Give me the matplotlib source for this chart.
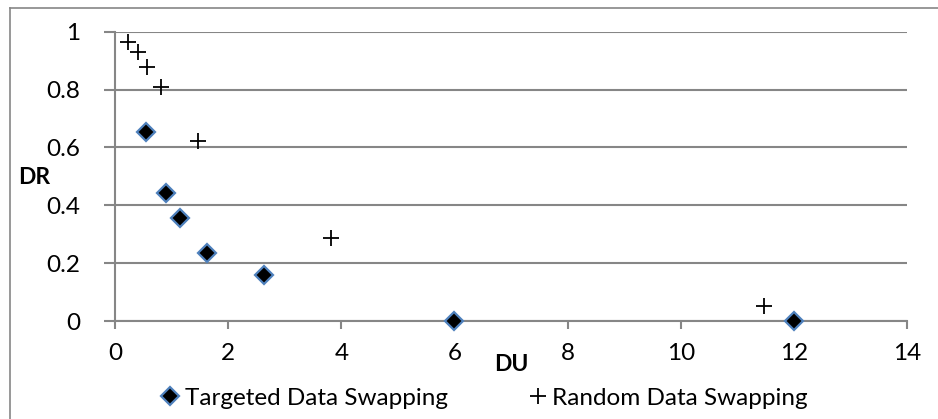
import matplotlib
matplotlib.use('Agg')
import matplotlib.pyplot as plt
from matplotlib.lines import Line2D

plt.rcParams['font.family'] = ['Lato', 'DejaVu Sans']

# data
targeted_du = [0.55, 0.90, 1.15, 1.63, 2.63, 6.0, 12.0]
targeted_dr = [0.654, 0.443, 0.356, 0.234, 0.160, 0.0, 0.0]
random_du = [0.23, 0.40, 0.56, 0.81, 1.46, 3.82, 11.48]
random_dr = [0.964, 0.930, 0.878, 0.809, 0.622, 0.287, 0.052]
x_ticks = [0, 2, 4, 6, 8, 10, 12, 14]
y_ticks = [0, 0.2, 0.4, 0.6, 0.8, 1]
y_labels = ['0', '0.2', '0.4', '0.6', '0.8', '1']

gray = '#868686'
fs = 17.5

fig = plt.figure(figsize=(9.38, 4.19), dpi=100)
ax = fig.add_axes([115 / 938, 1 - 321 / 419, 792 / 938, 289.3 / 419])

ax.plot(targeted_du, targeted_dr, linestyle='none', marker='D', markersize=9.5,
        markerfacecolor='black', markeredgecolor='#4F81BD', markeredgewidth=1.6,
        zorder=3, clip_on=False, label='Targeted Data Swapping')
ax.plot(random_du, random_dr, linestyle='none', marker='+', markersize=12,
        markeredgewidth=1.3, color='black', zorder=3, clip_on=False,
        label='Random Data Swapping')

ax.set_xlim(0, 14)
ax.set_ylim(0, 1)
ax.set_xticks(x_ticks)
ax.set_yticks(y_ticks)
ax.set_yticklabels(y_labels)
ax.grid(axis='y', color=gray, linewidth=1.5)
ax.set_axisbelow(True)

for s in ['top', 'right']:
    ax.spines[s].set_visible(False)
for s in ['left', 'bottom']:
    ax.spines[s].set_color(gray)
    ax.spines[s].set_linewidth(1.5)
ax.tick_params(axis='x', direction='out', length=6, width=1.5, color=gray,
               labelsize=fs, pad=10)
ax.tick_params(axis='y', direction='out', length=8, width=1.5, color=gray,
               labelsize=fs, pad=17)

fig.text(18 / 938, 1 - 178 / 419, 'DR', fontsize=16.5, fontweight='bold',
         va='center', ha='left')
fig.text(511 / 938, 1 - 364 / 419, 'DU', fontsize=16.5, fontweight='bold',
         va='center', ha='center')

handles = [
    Line2D([], [], linestyle='none', marker='D', markersize=9.5,
           markerfacecolor='black', markeredgecolor='#4F81BD', markeredgewidth=1.6),
    Line2D([], [], linestyle='none', marker='+', markersize=12,
           markeredgewidth=1.3, color='black'),
]
fig.legend(handles, ['Targeted Data Swapping', 'Random Data Swapping'],
           loc='center', bbox_to_anchor=(485 / 938, 1 - 398 / 419), ncol=2,
           frameon=False, fontsize=fs, handlelength=0.7, handletextpad=0.25,
           columnspacing=3.35)

# outer chart border (left and top visible)
fig.add_artist(Line2D([9.5 / 938, 9.5 / 938], [0, 1 - 8.5 / 419],
                      transform=fig.transFigure, color=gray, linewidth=1.2))
fig.add_artist(Line2D([9.5 / 938, 1], [1 - 8.5 / 419, 1 - 8.5 / 419],
                      transform=fig.transFigure, color=gray, linewidth=1.2))

fig.savefig('out.png', dpi=100)
